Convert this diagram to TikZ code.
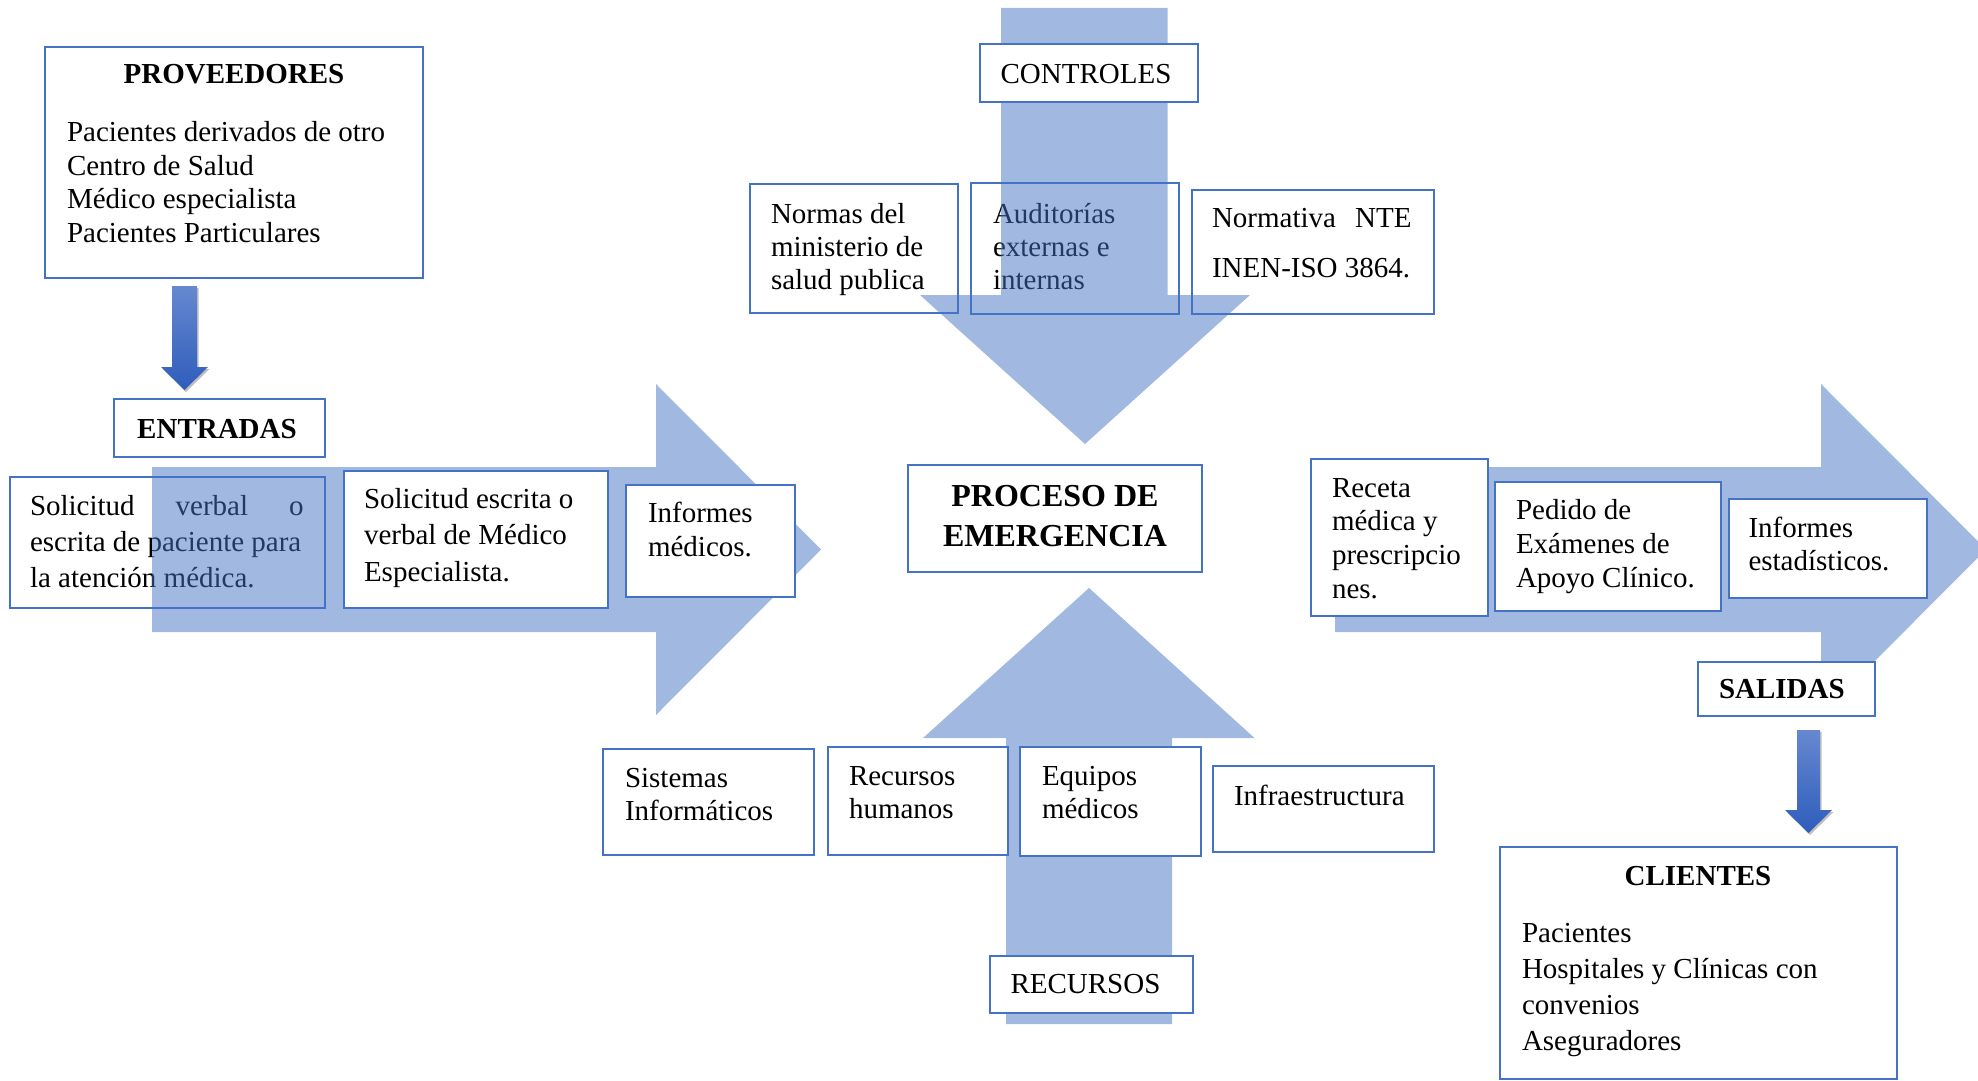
\documentclass[tikz,border=0pt]{standalone}
\usepackage{fontspec}
\setmainfont{Liberation Serif}
\usetikzlibrary{shadows}

\definecolor{frameblue}{HTML}{4472C4}
\definecolor{feedtop}{HTML}{6688D0}
\definecolor{feedbot}{HTML}{2E5DBB}

% a block of left-aligned lines whose reference point is the first baseline
\newcommand\stacklines[2]{\vtop{\baselineskip=#1pt\lineskiplimit=-100pt\lineskip=0pt #2}}
% a line centred on the reference point
\newcommand\midline[1]{\hbox to 0pt{\hss #1\hss}}

\tikzset{
  box/.style={draw=frameblue, line width=2.2pt, fill=white, inner sep=0pt, outer sep=0pt, anchor=north west},
  flow/.style={fill=frameblue, fill opacity=0.5, draw=none},
  feed/.style={top color=feedtop, bottom color=feedbot, draw=none,
    drop shadow={shadow xshift=1.5pt, shadow yshift=-2pt, opacity=0.25, fill=black}},
  txt/.style={anchor=base west, inner sep=0pt, outer sep=0pt, font=\fontsize{29}{34}\selectfont},
  ctxt/.style={anchor=base, inner sep=0pt, outer sep=0pt, font=\fontsize{29}{34}\selectfont},
  htxt/.style={anchor=base, inner sep=0pt, outer sep=0pt, font=\fontsize{29}{34}\selectfont\bfseries},
}

\begin{document}
\begin{tikzpicture}[x=1pt, y=-1pt]
\useasboundingbox (0,0) rectangle (1978,1081);
\fill[white] (0,0) rectangle (1978,1081);

% ---- boxes lying under the large flow arrows ----
\node[box, minimum width=315pt, minimum height=131pt] (sol1) at (10,477) {};
\node[txt] (sol1-t) at (30,515) {\stacklines{36}{%
  \hbox to 273.5pt{Solicitud\hfill verbal\hfill o}%
  \hbox{escrita de paciente para}%
  \hbox{la atención médica.}}};

\node[box, minimum width=208pt, minimum height=129pt] (norm) at (750,184) {};
\node[txt] (norm-t) at (771,223) {\stacklines{33}{%
  \hbox{Normas del}\hbox{ministerio de}\hbox{salud publica}}};

\node[box, minimum width=208pt, minimum height=131pt] (aud) at (971,183) {};
\node[txt] (aud-t) at (993,223) {\stacklines{33}{%
  \hbox{Auditorías}\hbox{externas e}\hbox{internas}}};

\node[box, minimum width=242pt, minimum height=124pt] (nte) at (1192,190) {};
\node[txt] (nte-t) at (1212,227) {\stacklines{50}{%
  \hbox to 199.5pt{Normativa\hfill NTE}\hbox{INEN-ISO 3864.}}};

% ---- large flow arrows ----
\begin{scope}
\clip (0,0) rectangle (1978,1081);
% inputs
\path[flow] (152,467) -- (656,467) -- (656,384) -- (821,549.5) -- (656,715)
  -- (656,632) -- (152,632) -- cycle;
% outputs
\path[flow] (1335,467) -- (1821,467) -- (1821,384) -- (1986,549.5) -- (1821,715)
  -- (1821,632) -- (1335,632) -- cycle;
% controls
\path[flow] (1001,8) -- (1167.5,8) -- (1167.5,295) -- (1250,295) -- (1085,444)
  -- (920,295) -- (1001,295) -- cycle;
% resources
\path[flow] (1006,1024) -- (1172,1024) -- (1172,738) -- (1254.5,738) -- (1089,588)
  -- (923,738) -- (1006,738) -- cycle;
\end{scope}

% ---- suppliers ----
\node[box, minimum width=378pt, minimum height=231pt] (prov) at (45,47) {};
\node[htxt] (prov-h) at (234,83) {PROVEEDORES};
\node[txt] (prov-t) at (67,141.7) {\stacklines{33.5}{%
  \hbox{Pacientes derivados de otro}\hbox{Centro de Salud}%
  \hbox{Médico especialista}\hbox{Pacientes Particulares}}};

\path[feed] (172,286) -- (197,286) -- (197,367) -- (208,367) -- (184.5,390)
  -- (161,367) -- (172,367) -- cycle;

% ---- inputs ----
\node[box, minimum width=211pt, minimum height=58pt] (entr) at (114,399) {};
\node[htxt] (entr-h) at (217,438) {ENTRADAS};

\node[box, minimum width=264pt, minimum height=137pt] (sol2) at (344,471) {};
\node[txt] (sol2-t) at (364,508) {\stacklines{36.5}{%
  \hbox{Solicitud escrita o}\hbox{verbal de Médico}\hbox{Especialista.}}};

\node[box, minimum width=169pt, minimum height=112pt] (infm) at (626,485) {};
\node[txt] (infm-t) at (648,522) {\stacklines{34}{%
  \hbox{Informes}\hbox{médicos.}}};

% ---- controls ----
\node[box, minimum width=218pt, minimum height=58pt] (ctrl) at (980,44) {};
\node[ctxt] (ctrl-t) at (1086,83) {CONTROLES};

% ---- process ----
\node[box, minimum width=294pt, minimum height=107pt] (proc) at (908,465) {};
\node[anchor=base, inner sep=0pt, outer sep=0pt, font=\fontsize{32}{40}\selectfont\bfseries]
  (proc-t) at (1055,506) {\stacklines{40}{\midline{PROCESO DE}\midline{EMERGENCIA}}};

% ---- resources ----
\node[box, minimum width=211pt, minimum height=106pt] (sis) at (603,749) {};
\node[txt] (sis-t) at (625,787) {\stacklines{33}{\hbox{Sistemas}\hbox{Informáticos}}};

\node[box, minimum width=180pt, minimum height=108pt] (rh) at (828,747) {};
\node[txt] (rh-t) at (849,785) {\stacklines{33}{\hbox{Recursos}\hbox{humanos}}};

\node[box, minimum width=181pt, minimum height=109pt] (eq) at (1020,747) {};
\node[txt] (eq-t) at (1042,785) {\stacklines{33}{\hbox{Equipos}\hbox{médicos}}};

\node[box, minimum width=221pt, minimum height=86pt] (inf) at (1213,766) {};
\node[txt] (inf-t) at (1234,805) {Infraestructura};

\node[box, minimum width=203pt, minimum height=57pt] (rec) at (990,956) {};
\node[txt] (rec-t) at (1010.5,993) {RECURSOS};

% ---- outputs ----
\node[box, minimum width=177pt, minimum height=157pt] (ret) at (1311,459) {};
\node[txt] (ret-t) at (1332,497) {\stacklines{33.7}{%
  \hbox{Receta}\hbox{médica y}\hbox{prescripcio}\hbox{nes.}}};

\node[box, minimum width=226pt, minimum height=129pt] (ped) at (1495,482) {};
\node[txt] (ped-t) at (1516,519) {\stacklines{34}{%
  \hbox{Pedido de}\hbox{Exámenes de}\hbox{Apoyo Clínico.}}};

\node[box, minimum width=198pt, minimum height=99pt] (est) at (1729,499) {};
\node[txt] (est-t) at (1748.5,537) {\stacklines{33}{%
  \hbox{Informes}\hbox{estadísticos.}}};

\node[box, minimum width=177pt, minimum height=54pt] (sal) at (1698,662) {};
\node[htxt, anchor=base west] (sal-h) at (1719,698) {SALIDAS};

\path[feed] (1797,730) -- (1820,730) -- (1820,810) -- (1832,810) -- (1808.5,833)
  -- (1785,810) -- (1797,810) -- cycle;

% ---- customers ----
\node[box, minimum width=397pt, minimum height=232pt] (cli) at (1500,847) {};
\node[htxt] (cli-h) at (1698,885) {CLIENTES};
\node[txt] (cli-t) at (1522,942) {\stacklines{36}{%
  \hbox{Pacientes}\hbox{Hospitales y Clínicas con}%
  \hbox{convenios}\hbox{Aseguradores}}};

\end{tikzpicture}
\end{document}
